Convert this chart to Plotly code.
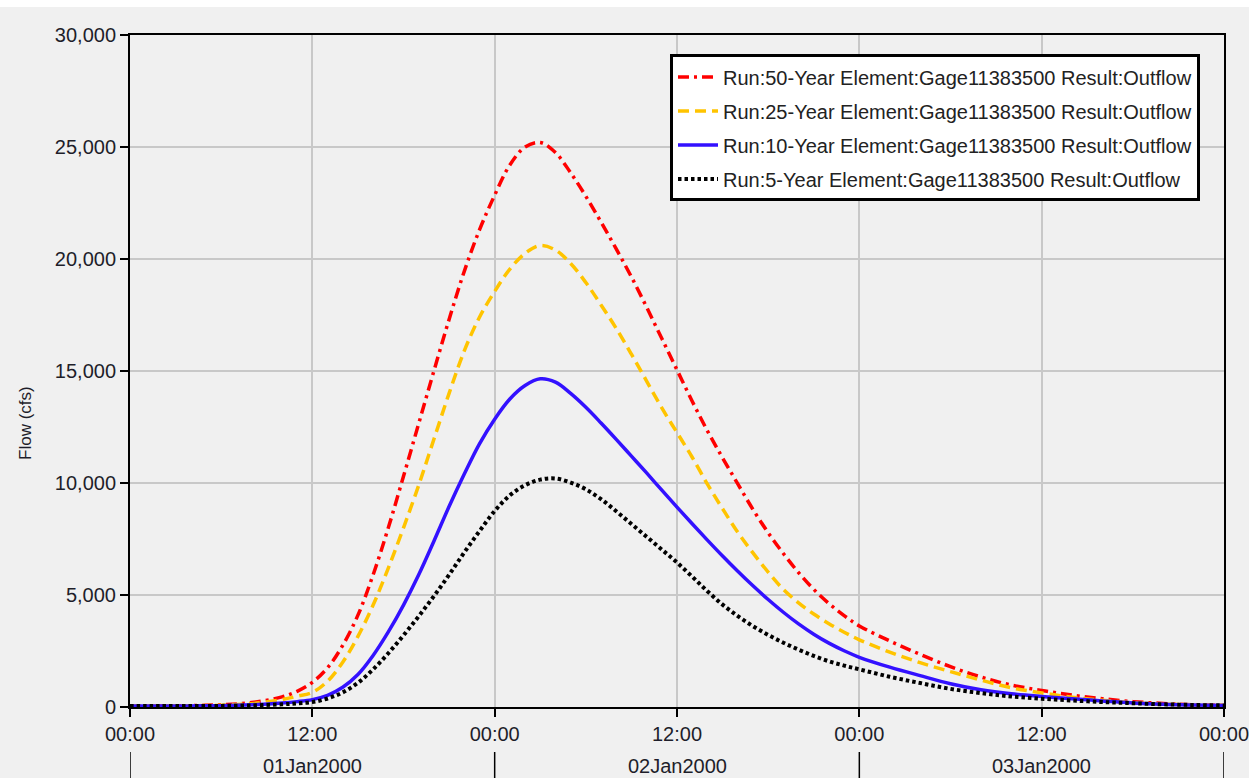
import pandas as pd
import plotly.graph_objects as go

# ---- data (hours since 01Jan2000 00:00) ----
hours = [0, 2, 4, 6, 8, 10, 11, 12, 13, 14, 15, 16, 17, 18, 19, 20, 21, 22, 23, 24,
         25, 26, 27, 28, 29, 30, 31, 32, 33, 34, 35, 36, 37, 38, 39, 40, 41, 42, 43,
         44, 45, 46, 47, 48, 50, 52, 54, 56, 58, 60, 62, 64, 66, 68, 70, 72]

flow_50yr = [50, 50, 60, 100, 200, 450, 700, 1100, 1750, 2750, 4100, 5900, 8000, 10300,
             12650, 15000, 17300, 19450, 21300, 22850, 24200, 25000, 25200, 24750, 23850,
             22800, 21650, 20450, 19200, 17850, 16450, 15050, 13650, 12330, 11120, 9960,
             8820, 7780, 6850, 6000, 5250, 4620, 4080, 3620, 2950, 2350, 1800, 1340, 980,
             740, 530, 370, 240, 160, 100, 70]

flow_25yr = [50, 50, 55, 80, 150, 330, 480, 650, 1150, 2000, 3150, 4550, 6200, 8000, 9900,
             11950, 14000, 15900, 17400, 18550, 19550, 20250, 20600, 20400, 19800, 18950,
             17950, 16900, 15750, 14550, 13350, 12250, 11150, 9950, 8850, 7800, 6880, 6020,
             5250, 4650, 4150, 3720, 3340, 3000, 2450, 1980, 1580, 1200, 860, 630, 440, 300,
             190, 130, 90, 70]

flow_10yr = [50, 50, 50, 60, 100, 180, 240, 330, 520, 880, 1450, 2300, 3350, 4550, 5900,
             7400, 8950, 10400, 11750, 12850, 13750, 14350, 14650, 14500, 14000, 13380,
             12680, 11950, 11200, 10450, 9680, 8920, 8180, 7450, 6740, 6060, 5410, 4800,
             4230, 3710, 3250, 2850, 2510, 2220, 1780, 1400, 1040, 770, 590, 470, 370, 270,
             180, 120, 90, 70]

flow_5yr = [40, 40, 40, 50, 70, 120, 160, 220, 380, 650, 1080, 1680, 2400, 3200, 4050, 4950,
            5900, 6900, 7850, 8750, 9450, 9900, 10150, 10200, 10020, 9720, 9280, 8740, 8170,
            7600, 7030, 6450, 5820, 5170, 4570, 4060, 3610, 3220, 2870, 2560, 2280, 2040,
            1850, 1680, 1350, 1070, 810, 620, 470, 370, 290, 220, 170, 120, 90, 70]

series_names = [
    "Run:50-Year Element:Gage11383500 Result:Outflow",
    "Run:25-Year Element:Gage11383500 Result:Outflow",
    "Run:10-Year Element:Gage11383500 Result:Outflow",
    "Run:5-Year Element:Gage11383500 Result:Outflow",
]
day_labels = ["01Jan2000", "02Jan2000", "03Jan2000"]
start = pd.Timestamp("2000-01-01 00:00")

times = [start + pd.Timedelta(hours=h) for h in hours]

styles = [
    dict(color="#ff0000", dash="11px,5px,3px,5px", width=3.5),
    dict(color="#ffc400", dash="11px,6px", width=3.5),
    dict(color="#3311ff", dash="solid", width=3.5),
    dict(color="#000000", dash="3.5px,3px", width=4),
]

fig = go.Figure()
for i, (name, vals) in enumerate(zip(series_names, [flow_50yr, flow_25yr, flow_10yr, flow_5yr])):
    fig.add_trace(go.Scatter(
        x=times, y=vals, mode="lines", name=name, legendgroup=str(i),
        line=dict(shape="spline", smoothing=1.0, **styles[i]),
    ))

font_col = "#1e1e2a"
fig.update_layout(
    width=1249, height=778,
    margin=dict(l=130, r=25, t=35, b=71),
    paper_bgcolor="#f0f0f0", plot_bgcolor="#f0f0f0",
    font=dict(family="Liberation Sans, Arial, sans-serif", size=20, color=font_col),
    showlegend=True,
    legend=dict(x=0.4936, y=0.971, xanchor="left", yanchor="top",
                bgcolor="white", bordercolor="black", borderwidth=3,
                font=dict(size=20, color="#222"), tracegroupgap=5,
                itemwidth=40, traceorder="grouped"),
)

fig.update_xaxes(
    type="date", range=[start, start + pd.Timedelta(hours=72)],
    tick0=start, dtick=12 * 3600 * 1000, tickformat="%H:%M",
    showgrid=True, gridcolor="#c8c8c8", gridwidth=1.5,
    showline=True, linecolor="black", linewidth=2, mirror=True,
    ticks="outside", ticklen=8, tickwidth=2, tickcolor="black",
    tickfont=dict(size=20, color=font_col), zeroline=False,
    ticklabeloverflow="allow", automargin=False,
)
fig.update_yaxes(
    range=[0, 30000], dtick=5000, tickformat=",d",
    showgrid=True, gridcolor="#c8c8c8", gridwidth=1.5,
    showline=True, linecolor="black", linewidth=2, mirror=True,
    ticks="outside", ticklen=8, tickwidth=2, tickcolor="black",
    tickfont=dict(size=20, color=font_col), zeroline=False, automargin=False,
)

# day labels and separators below the time axis
for d, lab in enumerate(day_labels):
    fig.add_annotation(x=start + pd.Timedelta(hours=24 * d + 12), y=-0.088,
                       xref="x", yref="paper", text=lab, showarrow=False,
                       font=dict(size=20, color=font_col), yanchor="middle")
for d in range(len(day_labels) + 1):
    fig.add_shape(type="line", xref="x", yref="paper",
                  x0=start + pd.Timedelta(hours=24 * d), x1=start + pd.Timedelta(hours=24 * d),
                  y0=-0.067, y1=-0.11, line=dict(color="black", width=1.5))

# y axis title
fig.add_annotation(x=-0.096, y=0.4226, xref="paper", yref="paper", text="Flow (cfs)",
                   textangle=-90, showarrow=False, font=dict(size=17, color=font_col),
                   xanchor="center", yanchor="middle")

# white strip at top of the image
fig.add_shape(type="rect", xref="paper", yref="paper", x0=-0.2, x1=1.1,
              y0=1.0 + 28 / 672, y1=1.2, fillcolor="white", line=dict(width=0), layer="below")

fig.write_html("out.html", config={"displayModeBar": False},
               post_script="document.body.style.margin='0px';")
